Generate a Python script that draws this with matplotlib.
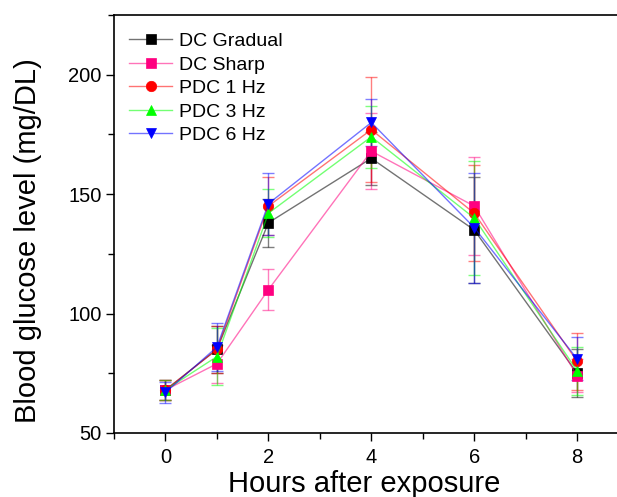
import matplotlib
matplotlib.use("Agg")
import matplotlib.pyplot as plt
from matplotlib.ticker import MultipleLocator
from matplotlib.colors import to_rgba

plt.rcParams['font.family'] = ['Liberation Sans', 'DejaVu Sans']

hours = [0, 1, 2, 4, 6, 8]
labels = ["DC Gradual", "DC Sharp", "PDC 1 Hz", "PDC 3 Hz", "PDC 6 Hz"]

dc_gradual = [68, 85, 138, 165, 135, 75]
dc_gradual_err = [4, 10, 10, 11, 22, 10]
dc_sharp = [68, 79, 110, 168, 145, 74]
dc_sharp_err = [4, 8, 8.5, 16, 20.5, 7]
pdc1 = [68, 85, 145, 177, 142, 80]
pdc1_err = [4, 10, 12, 22, 20, 12]
pdc3 = [68, 82, 142, 174, 140, 76]
pdc3_err = [4, 12, 10, 13, 24, 10]
pdc6 = [67, 86, 146, 180, 136, 81]
pdc6_err = [4.5, 10, 13, 10, 23, 9]

series = [dc_gradual, dc_sharp, pdc1, pdc3, pdc6]
errs = [dc_gradual_err, dc_sharp_err, pdc1_err, pdc3_err, pdc6_err]
colors = ["#000000", "#FF0080", "#FF0000", "#00FF00", "#0000FF"]
markers = ["s", "s", "o", "^", "v"]

fig = plt.figure(figsize=(6.17, 4.97), dpi=100)
ax = fig.add_axes([0.1848, 0.1288, 0.834, 0.841])

for y, e, c in zip(series, errs, colors):
    ax.errorbar(hours, y, yerr=e, fmt='none', ecolor=to_rgba(c, 0.5),
                elinewidth=1.0, capsize=4, capthick=1.0, zorder=2)

for y, c, m, lab in zip(series, colors, markers, labels):
    ax.plot(hours, y, color=to_rgba(c, 0.55), lw=1.0, marker=m, markersize=7.5,
            markerfacecolor=c, markeredgecolor=c, markeredgewidth=0.5,
            label=lab, zorder=3)

ax.set_xlim(-1, 9)
ax.set_ylim(50, 225)
ax.xaxis.set_major_locator(MultipleLocator(2))
ax.xaxis.set_minor_locator(MultipleLocator(1))
ax.yaxis.set_major_locator(MultipleLocator(50))
ax.yaxis.set_minor_locator(MultipleLocator(25))
ax.tick_params(which='major', direction='out', length=6, width=1, labelsize=14.5)
ax.tick_params(which='minor', direction='out', length=4, width=1)
ax.tick_params(axis='x', pad=5)
ax.tick_params(axis='y', pad=3)
for s in ax.spines.values():
    s.set_linewidth(1.2)

ax.set_xlabel("Hours after exposure", fontsize=21)
ax.set_ylabel("Blood glucose level (mg/DL)", fontsize=21)
ax.xaxis.set_label_coords(0.486, -0.088)
ax.yaxis.set_label_coords(-0.14, 0.46)

leg = ax.legend(loc='upper left', frameon=False, fontsize=14, handlelength=2.2,
                handletextpad=0.36, labelspacing=0.3, borderaxespad=0.0,
                borderpad=0.0, bbox_to_anchor=(0.03, 0.958))

fig.savefig("out.png", dpi=100)
